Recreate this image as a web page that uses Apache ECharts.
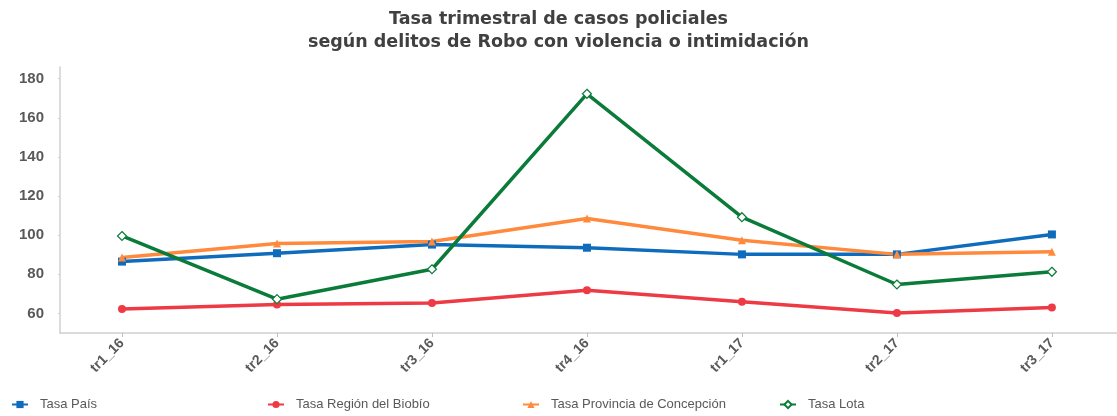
<!DOCTYPE html>
<html>
<head>
<meta charset="utf-8">
<script src="https://cdn.jsdelivr.net/npm/echarts@6/dist/echarts.min.js"></script>
<style>
  html, body { margin: 0; padding: 0; background: #fff; }
  #main { width: 1117px; height: 416px; }
</style>
</head>
<body>
<div id="main"></div>
<script>
// datos
var trimestres = ['tr1_16', 'tr2_16', 'tr3_16', 'tr4_16', 'tr1_17', 'tr2_17', 'tr3_17'];
var tasaPais = [86.5, 90.8, 95.2, 93.6, 90.2, 90.2, 100.4];
var tasaRegion = [62.3, 64.6, 65.3, 71.8, 66.0, 60.2, 63.0];
var tasaProvincia = [88.6, 95.8, 96.8, 108.5, 97.4, 90.2, 91.6];
var tasaLota = [99.6, 67.3, 82.6, 172.3, 109.2, 74.8, 81.3];
var yTicks = [60, 80, 100, 120, 140, 160, 180];

var myChart = echarts.init(document.getElementById('main'));

function pares(arr) {
    return arr.map(function (v, i) { return [i, v]; });
}
var idx = trimestres.map(function (t, i) { return i; });

var fuente = '"Liberation Sans", Arial, sans-serif';

function serie(nombre, datos, color, simbolo, tam, hueco) {
    return {
        name: nombre,
        type: 'line',
        data: pares(datos),
        symbol: simbolo,
        symbolSize: tam,
        showAllSymbol: true,
        lineStyle: { color: color, width: 3.5 },
        itemStyle: { color: hueco ? '#fff' : color, borderColor: color, borderWidth: hueco ? 1.2 : 0 },
        emphasis: { disabled: true }
    };
}

var leyendaBase = {
    bottom: 0,
    itemWidth: 16,
    itemHeight: 9,
    textStyle: { fontFamily: fuente, fontSize: 13, color: '#595959', padding: [0, 0, 0, 7] }
};

myChart.setOption({
    backgroundColor: '#fff',
    animation: false,
    title: {
        text: 'Tasa trimestral de casos policiales\nsegún delitos de Robo con violencia o intimidación',
        left: 'center',
        top: 3,
        textStyle: { fontFamily: '"DejaVu Sans", sans-serif', fontSize: 17.5, fontWeight: 'bold', color: '#404040', lineHeight: 23 }
    },
    legend: [
        Object.assign({ left: 6, data: ['Tasa País'] }, leyendaBase),
        Object.assign({ left: 262, data: ['Tasa Región del Biobío'] }, leyendaBase),
        Object.assign({ left: 517, data: ['Tasa Provincia de Concepción'] }, leyendaBase),
        Object.assign({ left: 774, data: ['Tasa Lota'] }, leyendaBase)
    ],
    grid: { left: 60, right: 0, top: 67, bottom: 83 },
    xAxis: {
        type: 'value',
        min: -0.4,
        max: 6.42,
        axisLine: { show: true, onZero: false, lineStyle: { color: '#d0d0d0', width: 1.5 } },
        axisTick: { show: true, customValues: idx, length: 4, lineStyle: { color: '#bfbfbf' } },
        splitLine: { show: false },
        axisLabel: {
            customValues: idx,
            rotate: 45,
            margin: 8,
            fontFamily: fuente,
            fontSize: 14,
            fontWeight: 'bold',
            color: '#595959',
            formatter: function (v) { return trimestres[Math.round(v)]; }
        }
    },
    yAxis: {
        type: 'value',
        min: 50,
        max: 186,
        axisLine: { show: true, onZero: false, lineStyle: { color: '#d0d0d0', width: 1.5 } },
        axisTick: { show: true, customValues: yTicks, length: 2, lineStyle: { color: '#d0d0d0' } },
        splitLine: { show: false },
        axisLabel: {
            customValues: yTicks,
            margin: 16,
            fontFamily: fuente,
            fontSize: 15,
            fontWeight: 'bold',
            color: '#595959'
        }
    },
    series: [
        serie('Tasa País', tasaPais, '#0F6CBD', 'rect', 8, false),
        serie('Tasa Región del Biobío', tasaRegion, '#EE3A45', 'circle', 8, false),
        serie('Tasa Provincia de Concepción', tasaProvincia, '#FF8A3D', 'triangle', 8, false),
        serie('Tasa Lota', tasaLota, '#0B7B3A', 'diamond', 9, true)
    ]
});
</script>
</body>
</html>
